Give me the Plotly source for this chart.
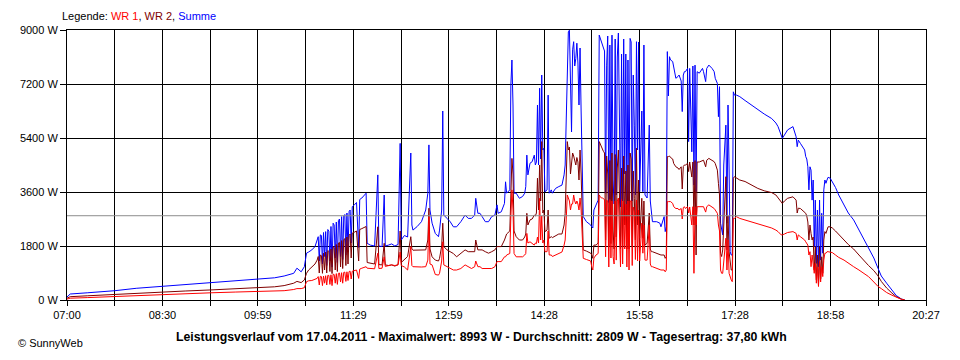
import plotly.graph_objects as go

# ---------------- data ----------------
TIME = [
 "07:00","07:03","07:19","07:45","08:05","08:30","08:51","09:15","09:38","10:00","10:15","10:24",
 "10:33","10:36","10:40","10:43","10:45","10:47","10:50","10:53","10:55",
 "10:56","10:57","10:58","10:59","11:00","11:01","11:02","11:03","11:04","11:05","11:06","11:07",
 "11:08","11:09","11:10","11:11","11:12","11:13","11:14","11:15","11:16","11:17","11:18","11:19",
 "11:20","11:21","11:22","11:23","11:24","11:25","11:26","11:27","11:28","11:30","11:32","11:34",
 "11:35","11:37","11:39","11:41","11:42","11:45","11:49","11:52","11:53","11:56","11:58","11:59",
 "12:02","12:05","12:08","12:11","12:13","12:14","12:17","12:20","12:23","12:24","12:25","12:29",
 "12:33","12:37","12:39","12:40","12:41","12:43","12:46","12:49","12:50","12:52","12:53","12:54",
 "12:57","13:00","13:03","13:06","13:10","13:14","13:17","13:20","13:23","13:24","13:26","13:28",
 "13:30","13:33","13:36","13:39","13:42","13:44","13:45","13:48","13:51","13:52","13:53","13:56",
 "13:57","13:58","13:59","14:00","14:02","14:05","14:08","14:10","14:11","14:12","14:13","14:15",
 "14:17","14:19","14:20","14:21","14:22","14:23","14:24","14:25","14:26","14:27","14:28","14:29",
 "14:31","14:32","14:33","14:35","14:36","14:39","14:42","14:45","14:47","14:48","14:49","14:50",
 "14:51","14:52","14:53","14:54","14:55","14:56","14:57","14:58","14:59","15:00","15:01","15:02",
 "15:03","15:04","15:05","15:08","15:12","15:13","15:14","15:15","15:17","15:19","15:20","15:21",
 "15:22","15:23","15:24","15:25","15:26","15:27","15:28","15:29","15:30","15:31","15:32","15:33",
 "15:34","15:35","15:36","15:37","15:38","15:39","15:40","15:41","15:42","15:43","15:44","15:45",
 "15:46","15:47","15:48","15:49","15:50","15:51","15:52","15:53","15:54","15:55","15:56","15:57",
 "15:58","16:00","16:01","16:02","16:03","16:05","16:07","16:08","16:09","16:10","16:14","16:17",
 "16:18","16:21","16:22","16:23","16:24","16:25","16:26","16:27","16:29","16:30","16:32","16:34",
 "16:35","16:37","16:38","16:39","16:40","16:41","16:43","16:44","16:45","16:47","16:48","16:49",
 "16:50","16:51","16:52","16:54","16:57","16:58","17:00","17:01","17:03","17:06","17:08","17:09",
 "17:11","17:12","17:13","17:14","17:15","17:16","17:17","17:19","17:20","17:21","17:22","17:23",
 "17:24","17:25","17:26","17:27","17:29","17:32","17:37","17:43","17:49","17:55","18:02","18:06",
 "18:08","18:11","18:12","18:14","18:17","18:22","18:25","18:26","18:27","18:29","18:33","18:34",
 "18:35","18:36","18:37","18:38","18:39","18:40","18:41","18:42","18:43","18:44","18:45","18:46",
 "18:47","18:48","18:49","18:50","18:51","18:52","18:53","18:54","18:55","18:57","18:59","19:02",
 "19:05","19:10","19:14","19:19","19:24","19:28","19:33","19:38","19:42","19:45","19:50","19:55",
 "19:59","20:04","20:07",
]

SUMME = [
 100,200,240,310,390,460,520,580,640,690,740,800,
 890,1060,940,1110,1560,1600,1670,1780,2000,
 2110,1300,2170,2150,1200,2250,1450,2280,1150,2350,2300,1300,
 2450,1100,2560,2500,1400,2600,1250,2650,2700,1450,2780,1350,
 2800,2850,1500,2900,1600,2950,3000,1900,3110,3170,3250,1750,
 3350,3400,3480,3560,1890,1830,1800,4170,1800,1780,3500,1800,
 1830,1870,1800,1850,5220,2000,2150,2100,4900,2500,2330,2450,
 2610,3000,3560,5170,3000,2560,2220,2110,2330,3000,6300,2830,
 2720,2610,2440,2440,2610,2830,2720,2720,2830,3390,2890,2890,
 2780,2610,2610,2780,2830,3170,2890,2940,3220,3940,3560,3670,
 7170,8000,6500,3560,3560,3390,3450,3560,3780,4830,4170,4560,
 4610,4830,4500,4600,6500,4500,7060,4700,7500,5000,5060,3610,
 3670,6830,3560,3670,3560,3720,3780,3830,4170,4500,6000,7600,
 8940,8993,7000,5600,8340,8610,7800,8050,8560,7900,6500,8400,
 6300,4170,2780,2610,2500,2440,2400,3000,3170,3330,8830,8700,
 8600,8500,8400,8300,3560,7830,8800,3250,8500,3300,8830,4000,
 3200,8700,3500,8100,8900,6000,3100,8200,3300,8700,4200,8200,
 3000,8000,3100,8720,8600,3300,7500,5830,3500,8610,5000,8600,
 3610,6300,3610,8500,3500,3400,5830,3300,2900,2610,2610,2560,
 2440,2780,2280,2450,8280,6800,8110,8000,7950,7750,7390,7450,
 7500,7300,6280,7500,7610,7610,7720,5280,7720,4940,7800,3830,
 7830,3610,7610,7560,7720,7610,7280,7720,7830,7720,7610,7390,
 7220,6110,7110,2560,2330,2170,4500,5830,2560,6500,4400,1610,
 1500,1500,6940,6830,6830,6780,6650,6500,6330,6200,6050,5900,
 5780,5440,5390,5500,5670,5780,5440,5110,5330,5220,5000,4780,
 4700,4440,3670,4440,4330,3330,4000,1780,3330,1220,3000,1110,
 3330,1330,2890,1560,3670,4000,3890,4000,4090,4060,3950,3750,
 3500,3150,2900,2670,2330,2050,1700,1400,1050,800,560,330,
 150,30,0,
]

WR2 = [
 60,110,140,190,225,260,300,335,370,400,440,480,
 560,620,580,670,890,1000,1100,1200,1330,
 1450,900,1500,1480,890,1560,1000,1600,900,1650,1620,950,
 1700,880,1780,1750,1000,1850,950,1900,1920,1100,1980,1050,
 2000,2050,1150,2100,1200,2150,2200,1400,2230,2260,2300,1300,
 2350,2380,2420,2450,1250,1220,1200,2440,1180,1170,1890,1170,
 1150,1170,1130,1180,2300,1250,1350,1450,2110,1700,1660,1670,
 1680,1670,2000,3060,1700,1440,1330,1300,1390,1800,2560,1780,
 1670,1610,1550,1440,1550,1670,1610,1610,1610,2000,1670,1670,
 1670,1610,1560,1610,1670,1780,1780,1780,2000,2110,2200,2300,
 3890,4720,4200,2300,2110,2000,2000,2100,2200,2890,2500,2670,
 2700,2830,2800,2900,4060,3000,4500,3300,5280,2900,3000,2280,
 2330,3000,2060,2110,2080,2150,2200,2200,2500,2890,4000,5280,
 5000,5100,4200,4500,4900,4800,4600,4500,4750,4600,4000,5000,
 4200,2800,1670,1630,1560,1500,1390,1830,1830,1900,5280,5200,
 5100,5000,4950,4900,2000,4800,4200,1800,4650,1880,4900,2300,
 1700,4850,2100,4400,5000,3500,1700,4400,1800,4800,2500,4300,
 1700,4500,1700,4900,4700,1800,4300,3390,2000,5060,2500,4000,
 2060,3390,2060,3300,1830,1890,2900,1700,1610,1610,1560,1500,
 1500,1500,1390,1450,4780,4780,4800,4750,4700,4550,4440,4400,
 4350,4440,3700,4450,4500,4500,4550,4280,4600,4100,4600,2500,
 4650,1500,4600,4600,4660,4660,4440,4660,4720,4660,4610,4550,
 4330,3890,3500,1560,1450,1670,2500,4110,1670,2800,1610,1170,
 1000,1000,4060,4110,4060,4000,3950,3830,3720,3640,3580,3500,
 3400,3280,3220,3300,3390,3440,3330,2900,3060,3050,2940,2890,
 2800,2600,2000,2500,2220,2000,2100,1000,1780,670,1500,500,
 1780,700,1440,890,2000,2280,2220,2330,2440,2440,2400,2300,
 2200,2000,1850,1700,1500,1330,1150,980,800,620,400,230,
 110,30,0,
]

WR1 = [
 30,60,80,120,150,180,210,240,265,290,300,310,
 350,380,380,410,610,640,650,700,720,
 780,500,790,780,480,800,560,810,500,820,820,520,
 840,480,860,850,560,880,520,890,900,600,910,560,
 920,930,620,940,650,950,960,700,960,980,1000,720,
 1030,1060,1080,1110,1060,1050,1040,1560,1050,1060,1440,1120,
 1150,1170,1150,1170,1600,1150,1100,1000,1780,1150,1110,1100,
 1100,1110,1330,2780,1200,1170,850,830,890,1300,1940,1170,
 1110,1050,1000,1000,1050,1170,1110,1050,1110,1300,1110,1110,
 1050,1050,1050,1050,1110,1280,1280,1280,1440,1440,1500,1550,
 2780,3670,3000,1550,1440,1440,1440,1500,1550,2220,1900,1940,
 1880,1830,1900,1880,2100,1900,3390,2000,2800,1900,2000,1610,
 1610,2300,1500,1500,1450,1500,1550,1600,1830,2000,2700,3500,
 3400,3300,3000,3200,3200,3500,3300,3200,3300,3200,3000,3400,
 3000,2000,1390,1350,1300,1100,1000,1400,1500,1550,3500,3450,
 3400,3400,3380,3350,1440,3330,3300,1100,3350,1400,3300,1450,
 1200,3300,1330,3300,3400,2500,1100,3350,1200,3300,1700,3200,
 1100,3300,1000,3300,3300,1150,3100,2940,1350,3330,1300,3000,
 1300,2560,1560,2500,1330,1330,2500,1200,1110,1110,1050,1000,
 1000,1000,940,1000,3280,3280,3280,3280,3220,3110,3050,3050,
 3000,3050,2700,3080,3110,3050,3110,2900,3100,2500,3110,890,
 3110,2500,3110,3110,3110,3110,2930,3110,3170,3110,3050,3000,
 2890,2500,2300,1000,890,890,1330,2060,1000,2000,890,720,
 670,610,2720,2720,2777,2720,2670,2610,2530,2470,2400,2330,
 2280,2170,2170,2200,2250,2280,2220,2000,2170,2110,2000,1940,
 1900,1830,1500,1610,1110,1500,1200,890,1220,560,1100,450,
 1280,600,1110,780,1330,1560,1560,1610,1610,1600,1580,1500,
 1420,1330,1220,1110,1000,900,780,600,450,380,250,160,
 90,20,0,
]

AVERAGE_W = 2809
Y_TICKS = [0, 1800, 3600, 5400, 7200, 9000]
X_TICK_LABELS = ["07:00", "08:30", "09:59", "11:29", "12:59", "14:28", "15:58", "17:28", "18:58", "20:27"]
TITLE = "Leistungsverlauf vom 17.04.2011 - Maximalwert: 8993 W - Durchschnitt: 2809 W - Tagesertrag: 37,80 kWh"

# ---------------- build ----------------
def to_min(t):
    h, m = t.split(":")
    return int(h) * 60 + int(m)

x = [to_min(t) for t in TIME]
x_start = to_min(X_TICK_LABELS[0])
x_end = to_min(X_TICK_LABELS[-1])
n_grid = 2 * (len(X_TICK_LABELS) - 1)
tickvals = [x_start + i * (x_end - x_start) / n_grid for i in range(n_grid + 1)]
ticktext = [X_TICK_LABELS[i // 2] if i % 2 == 0 else "" for i in range(n_grid + 1)]

FONT = "Liberation Sans, Arial, sans-serif"

fig = go.Figure()
fig.add_trace(go.Scatter(x=x, y=SUMME, mode="lines", name="Summe",
                         line=dict(color="#0000FF", width=1)))
fig.add_trace(go.Scatter(x=x, y=WR2, mode="lines", name="WR 2",
                         line=dict(color="#800000", width=1)))
fig.add_trace(go.Scatter(x=x, y=WR1, mode="lines", name="WR 1",
                         line=dict(color="#FF0000", width=1)))

fig.add_shape(type="line", xref="paper", x0=0, x1=1, yref="y", y0=AVERAGE_W, y1=AVERAGE_W,
              line=dict(color="#8C8C8C", width=1), layer="above")

# page has an 8px body margin: figure origin sits at (8, 8) in the window
fig.update_layout(
    width=944, height=344,
    margin=dict(l=52, r=22, t=22, b=52),
    paper_bgcolor="white", plot_bgcolor="white",
    showlegend=False,
    font=dict(family=FONT, size=11, color="black"),
)
fig.update_xaxes(
    range=[x_start, x_end], tickmode="array", tickvals=tickvals, ticktext=ticktext,
    showgrid=True, gridcolor="black", gridwidth=1,
    showline=True, linecolor="black", linewidth=1, mirror=True,
    ticks="outside", ticklen=5, tickcolor="black", tickwidth=1,
    zeroline=False, tickfont=dict(size=11, family=FONT),
)
fig.update_yaxes(
    range=[0, 9000], tickmode="array", tickvals=Y_TICKS,
    ticktext=[f"{v} W" for v in Y_TICKS],
    showgrid=True, gridcolor="black", gridwidth=1,
    showline=True, linecolor="black", linewidth=1, mirror=True,
    ticks="outside", ticklen=6, tickcolor="black", tickwidth=1,
    zeroline=False, tickfont=dict(size=11, family=FONT),
)

fig.add_annotation(
    xref="paper", yref="paper", x=-0.008, y=1.052, xanchor="left", yanchor="middle",
    showarrow=False, font=dict(size=11, family=FONT),
    text="Legende: <span style='color:#FF0000'>WR 1</span>, "
         "<span style='color:#800000'>WR 2</span>, "
         "<span style='color:#0000FF'>Summe</span>",
)
fig.add_annotation(
    xref="paper", yref="paper", x=0.4828, y=-0.137, xanchor="center", yanchor="middle",
    showarrow=False, font=dict(size=12.3, family=FONT), text="<b>" + TITLE + "</b>",
)
fig.add_annotation(
    xref="paper", yref="paper", x=-0.0598, y=-0.189, xanchor="left", yanchor="bottom",
    showarrow=False, font=dict(size=11, family=FONT), text="© SunnyWeb",
)

fig.write_html("out.html")
